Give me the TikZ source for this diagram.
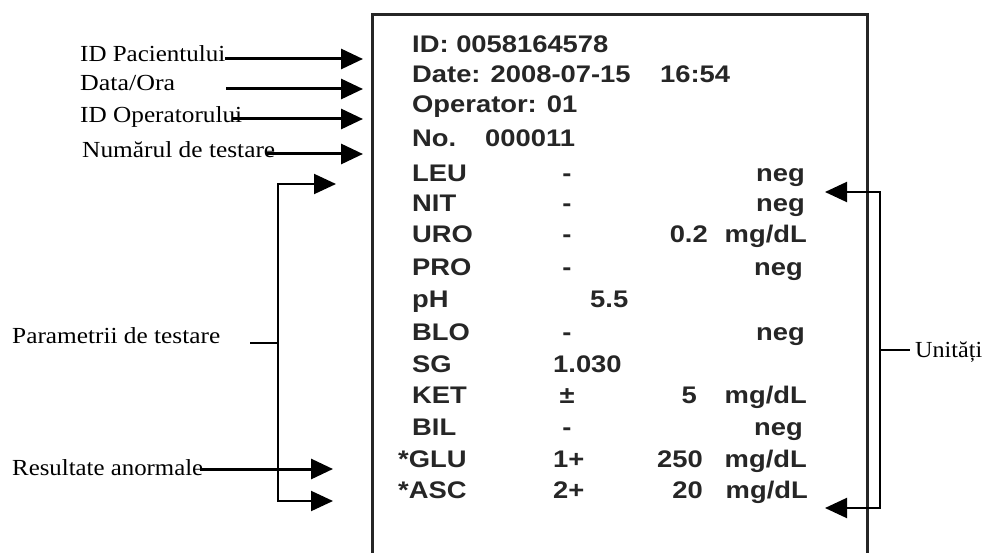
\documentclass[tikz,border=0pt]{standalone}
\usepackage{fontspec}
\setmainfont{Liberation Serif}
\newfontfamily\boxfont{Liberation Sans}
\usetikzlibrary{arrows.meta}
\newcommand{\bt}[1]{\scalebox{1.14}[1]{#1}}
\newcommand{\fw}[2]{\resizebox{#1pt}{\height}{#2}}
\begin{document}
\begin{tikzpicture}[x=1pt,y=-1pt,
  lab/.style={inner sep=0pt,anchor=base west,font=\fontsize{23}{27}\selectfont},
  bx/.style={inner sep=0pt,anchor=base west,font=\boxfont\bfseries\fontsize{24}{28}\selectfont,text=black!85},
  bxe/.style={bx,anchor=base east},
  bxc/.style={bx,anchor=base},
  bigarrow/.style={line width=3pt,-{Triangle[length=22pt,width=20pt]}},
  brk/.style={line width=2pt,{Triangle[length=22pt,width=20pt]}-{Triangle[length=22pt,width=20pt]}},
  tick/.style={line width=1.5pt}]
\useasboundingbox (0,0) rectangle (984,553);
\fill[white] (0,0) rectangle (984,553);
% receipt box
\draw[line width=3pt,black!85] (372,553) coordinate (bl) -- (372,15) coordinate (tl) -- (867,15) coordinate (tr) -- (867,553) coordinate (br);
% box text
\node[bx] (id) at (412,53) {\bt{ID: 0058164578}};
\node[bx] (date) at (412,83) {\bt{Date: 2008-07-15}};
\node[bx] (time) at (660,83) {\bt{16:54}};
\node[bx] (op) at (412,113) {\bt{Operator: 01}};
\node[bx] (no) at (412,147) {\bt{No.}};
\node[bx] (non) at (485,147) {\bt{000011}};
\node[bx] (leu) at (412,182) {\bt{LEU}};
\node[bxc] (leu2) at (567,182) {\bt{-}};
\node[bxe] (leu4) at (805,182) {\bt{neg}};
\node[bx] (nit) at (412,212) {\bt{NIT}};
\node[bxc] (nit2) at (567,212) {\bt{-}};
\node[bxe] (nit4) at (805,212) {\bt{neg}};
\node[bx] (uro) at (412,243) {\bt{URO}};
\node[bxc] (uro2) at (567,243) {\bt{-}};
\node[bxe] (uro3) at (708,243) {\bt{0.2}};
\node[bxe] (uro4) at (807,243) {\bt{mg/dL}};
\node[bx] (pro) at (412,275) {\bt{PRO}};
\node[bxc] (pro2) at (567,275) {\bt{-}};
\node[bxe] (pro4) at (803,275) {\bt{neg}};
\node[bx] (ph) at (412,307) {\bt{pH}};
\node[bx] (ph2) at (590,307) {\bt{5.5}};
\node[bx] (blo) at (412,340) {\bt{BLO}};
\node[bxc] (blo2) at (567,340) {\bt{-}};
\node[bxe] (blo4) at (805,340) {\bt{neg}};
\node[bx] (sg) at (412,372) {\bt{SG}};
\node[bx] (sg2) at (553,372) {\bt{1.030}};
\node[bx] (ket) at (412,403) {\bt{KET}};
\node[bxc] (ket2) at (567,403) {\bt{±}};
\node[bxe] (ket3) at (697,403) {\bt{5}};
\node[bxe] (ket4) at (807,403) {\bt{mg/dL}};
\node[bx] (bil) at (412,435) {\bt{BIL}};
\node[bxc] (bil2) at (567,435) {\bt{-}};
\node[bxe] (bil4) at (803,435) {\bt{neg}};
\node[bx] (glu) at (398,467) {\bt{*GLU}};
\node[bx] (glu2) at (553,467) {\bt{1+}};
\node[bxe] (glu3) at (703,467) {\bt{250}};
\node[bxe] (glu4) at (807,467) {\bt{mg/dL}};
\node[bx] (asc) at (398,498) {\bt{*ASC}};
\node[bx] (asc2) at (553,498) {\bt{2+}};
\node[bxe] (asc3) at (703,498) {\bt{20}};
\node[bxe] (asc4) at (808,498) {\bt{mg/dL}};
% left labels
\node[lab] (l1) at (80,62) {\fw{145}{ID Pacientului}};
\node[lab] (l2) at (80,91) {\fw{95}{Data/Ora}};
\node[lab] (l3) at (80,123) {\fw{162}{ID Operatorului}};
\node[lab] (l4) at (82,158) {\fw{193}{Numărul de testare}};
\node[lab] (l5) at (12,343) {\fw{208}{Parametrii de testare}};
\node[lab] (l6) at (12,475) {\fw{191}{Resultate anormale}};
\node[lab] (l7) at (915,357) {\fw{67}{Unități}};
% arrow coordinates
\coordinate (a1s) at (225,59);  \coordinate (a1e) at (363,59);
\coordinate (a2s) at (226,89);  \coordinate (a2e) at (363,89);
\coordinate (a3s) at (233,119); \coordinate (a3e) at (363,119);
\coordinate (a4s) at (267,154); \coordinate (a4e) at (363,154);
\coordinate (a6s) at (200,469); \coordinate (a6e) at (333,469);
\draw[bigarrow] (a1s) -- (a1e);
\draw[bigarrow] (a2s) -- (a2e);
\draw[bigarrow] (a3s) -- (a3e);
\draw[bigarrow] (a4s) -- (a4e);
\draw[bigarrow] (a6s) -- (a6e);
% parameter bracket
\coordinate (pt) at (336,184); \coordinate (pb) at (333,501);
\coordinate (pv) at (278,343); \coordinate (pk) at (250,343);
\draw[brk] (pt) -- (pv |- pt) -- (pv |- pb) -- (pb);
\draw[tick] (pk) -- (pv);
% units bracket
\coordinate (ut) at (825,192); \coordinate (ub) at (825,508);
\coordinate (uv) at (880,350); \coordinate (uk) at (910,350);
\draw[brk] (ut) -- (uv |- ut) -- (uv |- ub) -- (ub);
\draw[tick] (uv) -- (uk);
\end{tikzpicture}
\end{document}
